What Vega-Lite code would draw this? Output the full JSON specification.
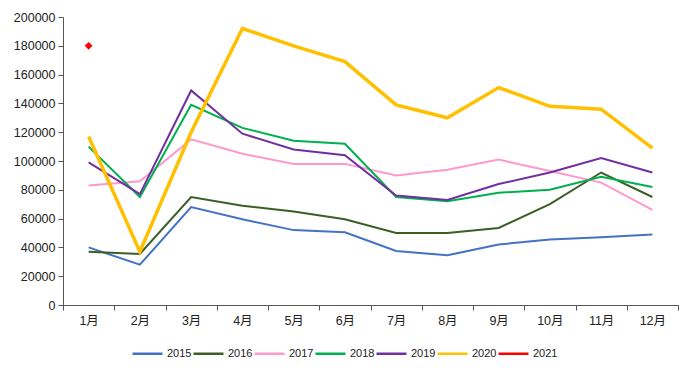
{
  "$schema": "https://vega.github.io/schema/vega-lite/v6.json",
  "width": 615,
  "height": 288,
  "autosize": {"type": "none"},
  "padding": {"left": 63, "top": 17, "right": 22, "bottom": 67},
  "background": "white",
  "config": {
    "view": {"stroke": null},
    "font": "Liberation Sans, Noto Sans CJK SC",
    "axis": {"labelFont": "Liberation Sans, Noto Sans CJK SC", "labelFontSize": 12.5, "labelColor": "#222", "domainColor": "#555", "tickColor": "#555", "grid": false}
  },
  "data": {
    "values": [
      {"m":"1月","y":"2015","v":40000},{"m":"2月","y":"2015","v":28000},{"m":"3月","y":"2015","v":68000},{"m":"4月","y":"2015","v":59500},{"m":"5月","y":"2015","v":52000},{"m":"6月","y":"2015","v":50500},{"m":"7月","y":"2015","v":37500},{"m":"8月","y":"2015","v":34500},{"m":"9月","y":"2015","v":42000},{"m":"10月","y":"2015","v":45500},{"m":"11月","y":"2015","v":47000},{"m":"12月","y":"2015","v":49000},
      {"m":"1月","y":"2016","v":37000},{"m":"2月","y":"2016","v":35500},{"m":"3月","y":"2016","v":75000},{"m":"4月","y":"2016","v":69000},{"m":"5月","y":"2016","v":65000},{"m":"6月","y":"2016","v":59500},{"m":"7月","y":"2016","v":50000},{"m":"8月","y":"2016","v":50000},{"m":"9月","y":"2016","v":53500},{"m":"10月","y":"2016","v":70000},{"m":"11月","y":"2016","v":92000},{"m":"12月","y":"2016","v":75000},
      {"m":"1月","y":"2017","v":83000},{"m":"2月","y":"2017","v":86000},{"m":"3月","y":"2017","v":115000},{"m":"4月","y":"2017","v":105000},{"m":"5月","y":"2017","v":98000},{"m":"6月","y":"2017","v":98000},{"m":"7月","y":"2017","v":90000},{"m":"8月","y":"2017","v":94000},{"m":"9月","y":"2017","v":101000},{"m":"10月","y":"2017","v":93000},{"m":"11月","y":"2017","v":85000},{"m":"12月","y":"2017","v":66000},
      {"m":"1月","y":"2018","v":110000},{"m":"2月","y":"2018","v":75000},{"m":"3月","y":"2018","v":139000},{"m":"4月","y":"2018","v":123000},{"m":"5月","y":"2018","v":114000},{"m":"6月","y":"2018","v":112000},{"m":"7月","y":"2018","v":75000},{"m":"8月","y":"2018","v":72000},{"m":"9月","y":"2018","v":78000},{"m":"10月","y":"2018","v":80000},{"m":"11月","y":"2018","v":89000},{"m":"12月","y":"2018","v":82000},
      {"m":"1月","y":"2019","v":99000},{"m":"2月","y":"2019","v":77000},{"m":"3月","y":"2019","v":149000},{"m":"4月","y":"2019","v":119000},{"m":"5月","y":"2019","v":108000},{"m":"6月","y":"2019","v":104000},{"m":"7月","y":"2019","v":76000},{"m":"8月","y":"2019","v":73000},{"m":"9月","y":"2019","v":84000},{"m":"10月","y":"2019","v":92000},{"m":"11月","y":"2019","v":102000},{"m":"12月","y":"2019","v":92000},
      {"m":"1月","y":"2020","v":117000},{"m":"2月","y":"2020","v":37000},{"m":"3月","y":"2020","v":120000},{"m":"4月","y":"2020","v":192000},{"m":"5月","y":"2020","v":180000},{"m":"6月","y":"2020","v":169000},{"m":"7月","y":"2020","v":139000},{"m":"8月","y":"2020","v":130000},{"m":"9月","y":"2020","v":151000},{"m":"10月","y":"2020","v":138000},{"m":"11月","y":"2020","v":136000},{"m":"12月","y":"2020","v":109000},
      {"m":"1月","y":"2021","v":180000}
    ]
  },
  "encoding": {
    "x": {
      "field": "m", "type": "ordinal",
      "sort": ["1月","2月","3月","4月","5月","6月","7月","8月","9月","10月","11月","12月"],
      "scale": {"paddingInner": 0, "paddingOuter": 0},
      "axis": {"title": null, "labelAngle": 0, "tickBand": "extent", "tickSize": 5, "labelPadding": 4}
    },
    "y": {
      "field": "v", "type": "quantitative",
      "scale": {"domain": [0, 200000], "nice": false},
      "axis": {"title": null, "values": [0,20000,40000,60000,80000,100000,120000,140000,160000,180000,200000], "format": "d", "tickSize": 5, "labelPadding": 3}
    },
    "color": {
      "field": "y", "type": "nominal",
      "scale": {"domain": ["2015","2016","2017","2018","2019","2020","2021"], "range": ["#4472C4","#3B5E26","#FF99CC","#00B050","#7030A0","#FFC000","#FF0000"]},
      "legend": {"title": null, "orient": "none", "legendX": 68, "legendY": 320, "direction": "horizontal", "symbolType": "stroke", "symbolSize": 900, "symbolStrokeWidth": 2.5, "labelFontSize": 11, "labelColor": "#222", "columnPadding": -4, "labelOffset": 3}
    }
  },
  "layer": [
    {
      "transform": [{"filter": "datum.y != '2021' && datum.y != '2020'"}],
      "mark": {"type": "line", "strokeWidth": 2}
    },
    {
      "transform": [{"filter": "datum.y == '2020'"}],
      "mark": {"type": "line", "strokeWidth": 3.5}
    },
    {
      "transform": [{"filter": "datum.y == '2021'"}],
      "mark": {"type": "point", "shape": "diamond", "filled": true, "size": 60, "opacity": 1}
    }
  ]
}
